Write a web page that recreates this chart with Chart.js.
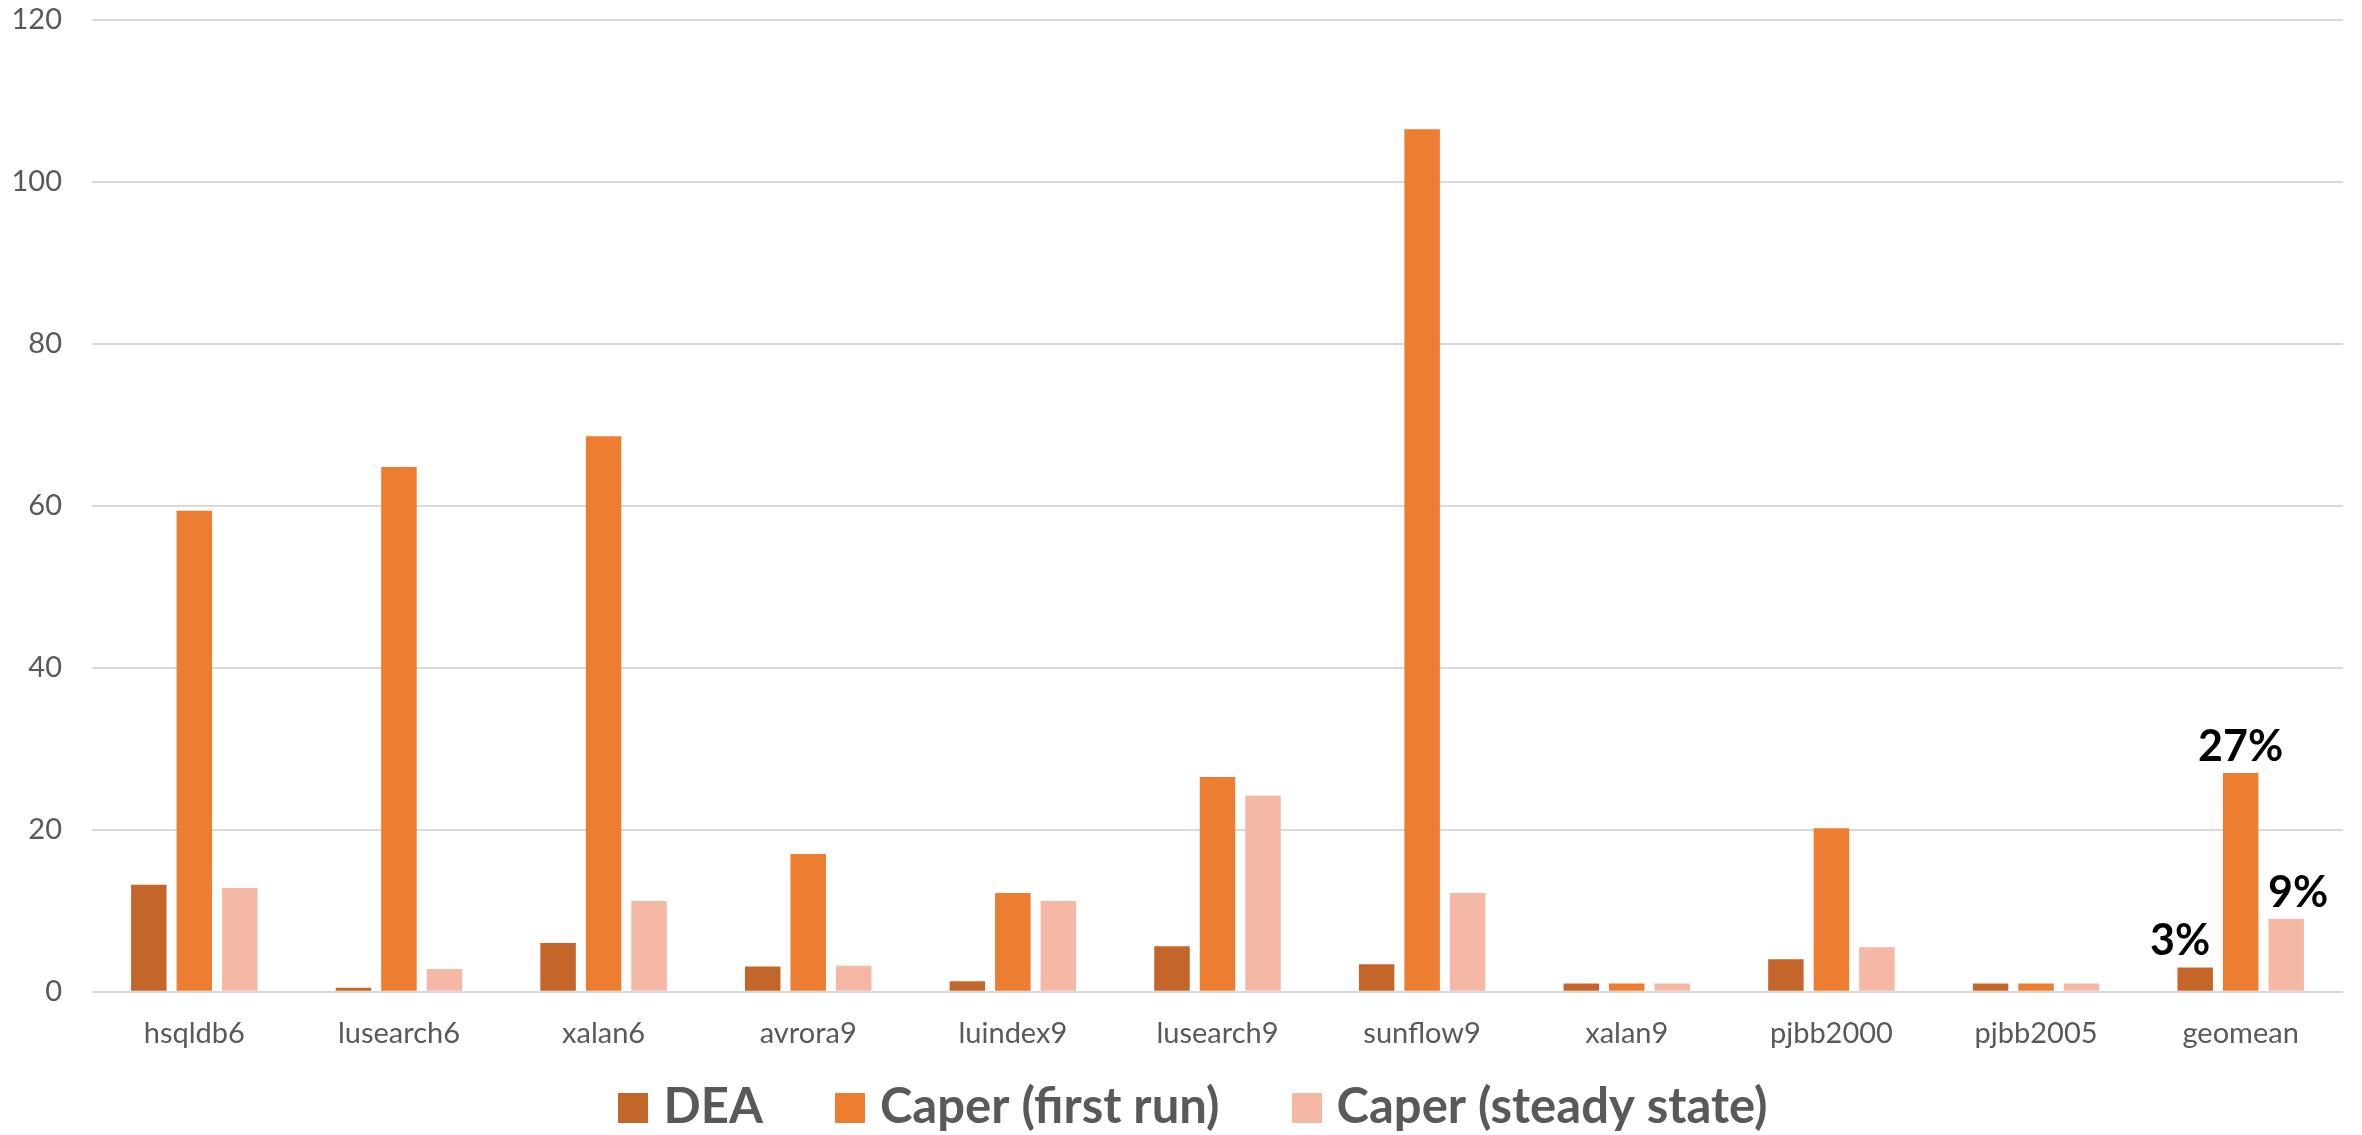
<!DOCTYPE html>
<html>
<head>
<meta charset="utf-8">
<title>DEA vs Caper overhead</title>
<script src="https://cdn.jsdelivr.net/npm/chart.js@4/dist/chart.umd.min.js"></script>
<style>
  html, body { margin: 0; padding: 0; background: #ffffff; }
  #wrap { width: 2362px; height: 1135px; }
</style>
</head>
<body>
<div id="wrap"><canvas id="chart" width="2362" height="1135"></canvas></div>
<script>
// Benchmarks on the x axis
const categories = ['hsqldb6', 'lusearch6', 'xalan6', 'avrora9', 'luindex9', 'lusearch9',
                    'sunflow9', 'xalan9', 'pjbb2000', 'pjbb2005', 'geomean'];

// Overhead per benchmark (%)
const deaValues    = [13.2, 0.5, 6.0, 3.1, 1.3, 5.6, 3.4, 1.0, 4.0, 1.0, 3];
const firstRun     = [59.4, 64.8, 68.6, 17.0, 12.2, 26.5, 106.5, 1.0, 20.2, 1.0, 27];
const steadyState  = [12.8, 2.8, 11.2, 3.2, 11.2, 24.2, 12.2, 1.0, 5.5, 1.0, 9];

const seriesNames  = ['DEA', 'Caper (first run)', 'Caper (steady state)'];

// Y axis ticks
const yTicks = [0, 20, 40, 60, 80, 100, 120];

const colors = ['#C4662A', '#ED7D31', '#F4B8A4'];

// Percent labels above the geomean group
const geomeanLabels = {
  id: 'geomeanLabels',
  afterDatasetsDraw(chart, args, o) {
    const ctx = chart.ctx;
    const idx = chart.data.labels.length - 1;
    ctx.save();
    ctx.font = o.font;
    ctx.fillStyle = o.color;
    ctx.textAlign = 'center';
    ctx.textBaseline = 'alphabetic';
    chart.data.datasets.forEach((ds, i) => {
      const bar = chart.getDatasetMeta(i).data[idx];
      ctx.fillText(ds.data[idx] + '%', bar.x + o.shift[i], bar.y - o.gap);
    });
    ctx.restore();
  }
};

// Legend row drawn under the axis
const bottomLegend = {
  id: 'bottomLegend',
  afterDraw(chart, args, o) {
    const ctx = chart.ctx;
    ctx.save();
    ctx.font = o.font;
    const items = chart.data.datasets.map(ds => ({
      text: ds.label, color: ds.backgroundColor, w: ctx.measureText(ds.label).width
    }));
    const total = items.reduce((s, it) => s + o.box + o.textGap + it.w, 0) + o.itemGap * (items.length - 1);
    let x = chart.width / 2 + o.shift - total / 2;
    items.forEach(it => {
      ctx.fillStyle = it.color;
      ctx.fillRect(Math.round(x), o.baseline - o.box, o.box, o.box);
      x += o.box + o.textGap;
      ctx.fillStyle = o.color;
      ctx.textAlign = 'left';
      ctx.textBaseline = 'alphabetic';
      ctx.fillText(it.text, x, o.baseline);
      x += it.w + o.itemGap;
    });
    ctx.restore();
  }
};

function draw() {
  Chart.defaults.font.family = 'Lato, "Open Sans", sans-serif';
  new Chart(document.getElementById('chart'), {
    type: 'bar',
    data: {
      labels: categories,
      datasets: [deaValues, firstRun, steadyState].map((vals, i) => ({
        label: seriesNames[i],
        data: vals,
        backgroundColor: colors[i],
        borderWidth: 0,
        categoryPercentage: 0.667,
        barPercentage: 0.78
      }))
    },
    options: {
      responsive: false,
      animation: false,
      events: [],
      layout: { padding: { top: 20, right: 19, bottom: 73, left: 0 } },
      plugins: {
        legend: { display: false },
        tooltip: { enabled: false },
        geomeanLabels: {
          font: 'bold 43px Lato',
          color: '#000000',
          gap: 12,
          shift: [-15, 0, 12]
        },
        bottomLegend: {
          font: 'bold 49px Lato',
          color: '#595959',
          box: 30,
          textGap: 15,
          itemGap: 72,
          baseline: 1123,
          shift: 12
        }
      },
      scales: {
        x: {
          grid: { display: false },
          border: { display: false },
          ticks: { font: { size: 29 }, color: '#595959', padding: 17 },
          afterFit(s) { s.height = 70.3; s.paddingLeft = 0; s.paddingRight = 0; }
        },
        y: {
          min: 0,
          max: 120,
          afterBuildTicks(s) { s.ticks = yTicks.map(v => ({ value: v })); },
          grid: { color: '#D9D9D9', lineWidth: 2, drawTicks: false },
          border: { display: false },
          ticks: { font: { size: 29 }, color: '#595959', padding: 30 },
          afterFit(s) { s.width = 92; s.paddingTop = 0; s.paddingBottom = 0; }
        }
      }
    },
    plugins: [geomeanLabels, bottomLegend]
  });
}

if (document.fonts && document.fonts.load) {
  Promise.all([
    document.fonts.load('29px Lato'),
    document.fonts.load('bold 49px Lato')
  ]).then(draw, draw);
} else {
  draw();
}
</script>
</body>
</html>
